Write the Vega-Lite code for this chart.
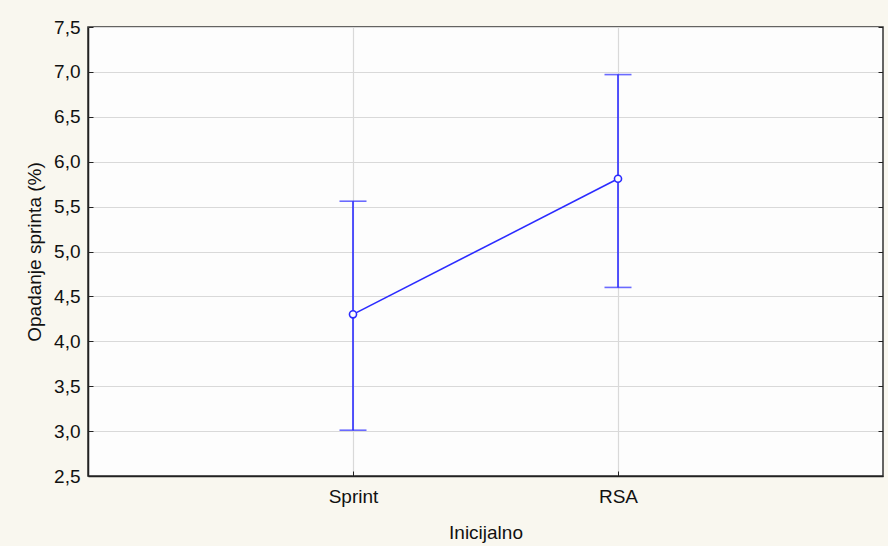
{
  "$schema": "https://vega.github.io/schema/vega-lite/v6.json",
  "autosize": "none",
  "width": 795,
  "height": 449,
  "padding": {"left": 88, "top": 27, "right": 5, "bottom": 70},
  "background": "#f9f7ef",
  "config": {
    "font": "Liberation Sans",
    "view": {"fill": "#fdfdfd", "stroke": "#333333", "strokeWidth": 1.5},
    "axis": {
      "labelFont": "Liberation Sans",
      "titleFont": "Liberation Sans",
      "labelColor": "#111111",
      "titleColor": "#111111",
      "titleFontWeight": "normal",
      "gridColor": "#d9d9d9",
      "gridWidth": 1.2,
      "domainColor": "#222222",
      "domainWidth": 1.5,
      "tickColor": "#222222"
    }
  },
  "resolve": {"axis": {"y": "independent"}},
  "data": {
    "values": [
      {"group": "Sprint", "mean": 4.30, "lo": 3.01, "hi": 5.56},
      {"group": "RSA", "mean": 5.81, "lo": 4.60, "hi": 6.97}
    ]
  },
  "encoding": {
    "x": {
      "field": "group",
      "type": "nominal",
      "sort": ["Sprint", "RSA"],
      "scale": {"type": "point", "padding": 1},
      "axis": {
        "title": "Inicijalno",
        "labelAngle": 0,
        "labelFontSize": 19,
        "titleFontSize": 19,
        "labelPadding": 16,
        "titlePadding": 17,
        "tickSize": -5,
        "grid": true
      }
    }
  },
  "layer": [
    {
      "mark": {"type": "rule", "color": "#2b2bff", "strokeWidth": 1.6},
      "encoding": {
        "y": {
          "field": "lo",
          "type": "quantitative",
          "scale": {"domain": [2.5, 7.5], "nice": false, "zero": false},
          "axis": {
            "title": "Opadanje sprinta (%)",
            "values": [2.5, 3, 3.5, 4, 4.5, 5, 5.5, 6, 6.5, 7, 7.5],
            "labelExpr": "replace(format(datum.value, '.1f'), '.', ',')",
            "labelFontSize": 19,
            "titleFontSize": 19,
            "labelPadding": 13,
            "titlePadding": 9,
            "tickSize": -5,
            "grid": true
          }
        },
        "y2": {"field": "hi"}
      }
    },
    {
      "mark": {"type": "tick", "color": "#2b2bff", "thickness": 1.6, "size": 27, "orient": "horizontal"},
      "encoding": {"y": {"field": "lo", "type": "quantitative", "axis": null}}
    },
    {
      "mark": {"type": "tick", "color": "#2b2bff", "thickness": 1.6, "size": 27, "orient": "horizontal"},
      "encoding": {"y": {"field": "hi", "type": "quantitative", "axis": null}}
    },
    {
      "mark": {"type": "line", "color": "#2b2bff", "strokeWidth": 1.6},
      "encoding": {"y": {"field": "mean", "type": "quantitative", "axis": null}}
    },
    {
      "mark": {"type": "point", "color": "#2b2bff", "filled": false, "strokeWidth": 1.6, "size": 50, "fill": "#fdfdfd", "fillOpacity": 1},
      "encoding": {
        "y": {
          "field": "mean",
          "type": "quantitative",
          "axis": {
            "orient": "right",
            "title": null,
            "labels": false,
            "grid": false,
            "domain": false,
            "values": [2.5, 3, 3.5, 4, 4.5, 5, 5.5, 6, 6.5, 7, 7.5],
            "tickSize": -5
          }
        }
      }
    }
  ]
}
